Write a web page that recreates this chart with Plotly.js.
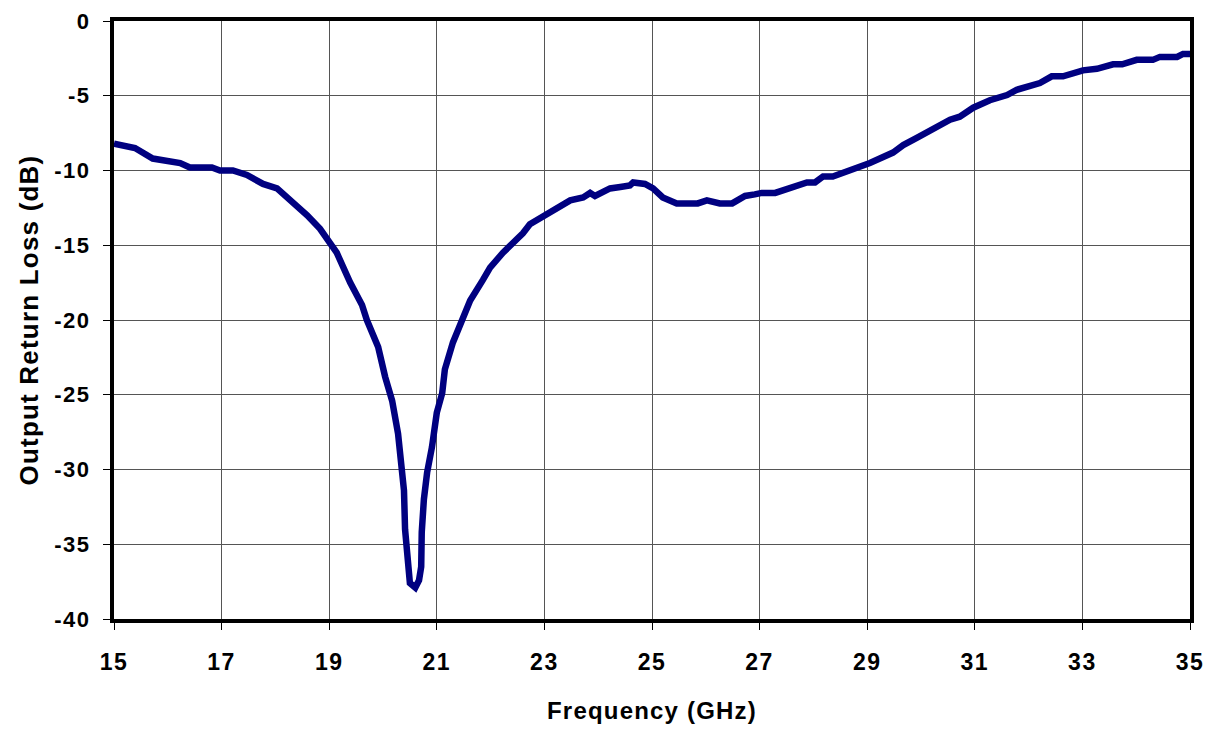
<!DOCTYPE html>
<html>
<head>
<meta charset="utf-8">
<script src="https://cdn.plot.ly/plotly-3.0.1.min.js"></script>
<style>
  html, body { margin: 0; padding: 0; background: #fff; }
  #chart { width: 1208px; height: 729px; }
  /* slightly open lettering for the axis text */
  #chart .xtitle, #chart .ytitle { letter-spacing: 1.2px; }
  #chart .xtick text, #chart .ytick text { letter-spacing: 1.5px; }
</style>
</head>
<body>
<div id="chart"></div>
<script>
// Output return loss versus frequency
const frequencyGHz = [
  15.0, 15.39, 15.72, 16.0, 16.23, 16.41, 16.82, 16.97, 17.21, 17.47,
  17.77, 18.03, 18.33, 18.59, 18.83, 19.01, 19.14, 19.39, 19.61, 19.7,
  19.91, 20.04, 20.17, 20.28, 20.35, 20.39, 20.41, 20.45, 20.5, 20.6,
  20.67, 20.71, 20.72, 20.76, 20.82, 20.91, 21.0, 21.1, 21.15, 21.3,
  21.49, 21.62, 21.86, 21.99, 22.23, 22.49, 22.6, 22.73, 23.01, 23.23,
  23.48, 23.72, 23.85, 23.94, 24.22, 24.41, 24.59, 24.65, 24.87, 25.02,
  25.2, 25.46, 25.85, 26.02, 26.13, 26.26, 26.49, 26.73, 26.91, 27.04,
  27.29, 27.51, 27.62, 27.88, 28.03, 28.18, 28.36, 28.62, 28.81, 29.05,
  29.48, 29.67, 29.93, 30.22, 30.54, 30.72, 30.97, 31.28, 31.6, 31.78,
  32.21, 32.43, 32.64, 33.01, 33.27, 33.57, 33.74, 34.01, 34.31, 34.44,
  34.76, 34.87, 35.0
];
const returnLossDB = [
  -8.2, -8.5, -9.2, -9.35, -9.5, -9.8, -9.8, -10.0, -10.0, -10.3,
  -10.9, -11.2, -12.1, -13.0, -13.9, -14.8, -15.5, -17.5, -19.0, -20.0,
  -21.8, -23.8, -25.4, -27.6, -29.8, -31.4, -34.0, -36.1, -37.6, -37.9,
  -37.4, -36.5, -34.2, -32.0, -30.2, -28.5, -26.2, -24.9, -23.3, -21.5,
  -19.8, -18.7, -17.3, -16.5, -15.5, -14.65, -14.2, -13.6, -13.0, -12.5,
  -12.0, -11.8, -11.5, -11.7, -11.2, -11.1, -11.0, -10.8, -10.9, -11.2,
  -11.8, -12.2, -12.2, -12.0, -12.1, -12.2, -12.2, -11.7, -11.6, -11.5,
  -11.5, -11.2, -11.1, -10.8, -10.8, -10.4, -10.4, -10.1, -9.8, -9.5,
  -8.8, -8.3, -7.8, -7.2, -6.6, -6.4, -5.8, -5.3, -4.95, -4.6,
  -4.15, -3.7, -3.7, -3.3, -3.2, -2.9, -2.9, -2.6, -2.6, -2.4,
  -2.4, -2.2, -2.2
];
const xTicks = [15, 17, 19, 21, 23, 25, 27, 29, 31, 33, 35];
const yTicks = [0, -5, -10, -15, -20, -25, -30, -35, -40];

const fam = 'Liberation Sans, Arial, sans-serif';
const xTickFont = { family: fam, size: 23, color: '#000', weight: 'bold' };
const yTickFont = { family: fam, size: 22, color: '#000', weight: 'bold' };
const xTitleFont = { family: fam, size: 24, color: '#000', weight: 'bold' };
const yTitleFont = { family: fam, size: 26, color: '#000', weight: 'bold' };

const trace = {
  x: frequencyGHz,
  y: returnLossDB,
  type: 'scatter',
  mode: 'lines',
  line: { color: '#000080', width: 6.5, shape: 'linear' },
  hoverinfo: 'x+y'
};

const layout = {
  width: 1208,
  height: 729,
  margin: { l: 114, r: 18, t: 21, b: 110 },
  paper_bgcolor: '#fff',
  plot_bgcolor: '#fff',
  showlegend: false,
  xaxis: {
    range: [15, 35],
    tickvals: xTicks,
    ticktext: xTicks.map(String),
    ticks: 'outside',
    ticklen: 7,
    tickwidth: 1,
    tickcolor: '#000',
    ticklabelstandoff: 12,
    tickfont: xTickFont,
    showgrid: true,
    gridcolor: '#555',
    gridwidth: 1,
    showline: true,
    linecolor: '#000',
    linewidth: 4,
    mirror: true,
    zeroline: false,
    title: { text: 'Frequency (GHz)', font: xTitleFont, standoff: 30 }
  },
  yaxis: {
    range: [-40, 0],
    tickvals: yTicks,
    ticktext: yTicks.map(String),
    ticks: 'outside',
    ticklen: 7,
    tickwidth: 1,
    tickcolor: '#000',
    ticklabelstandoff: 8,
    tickfont: yTickFont,
    showgrid: true,
    gridcolor: '#555',
    gridwidth: 1,
    showline: true,
    linecolor: '#000',
    linewidth: 4,
    mirror: true,
    zeroline: false,
    title: { text: 'Output Return Loss (dB)', font: yTitleFont, standoff: 14 }
  }
};

Plotly.newPlot('chart', [trace], layout, { displayModeBar: false, staticPlot: true });
</script>
</body>
</html>
